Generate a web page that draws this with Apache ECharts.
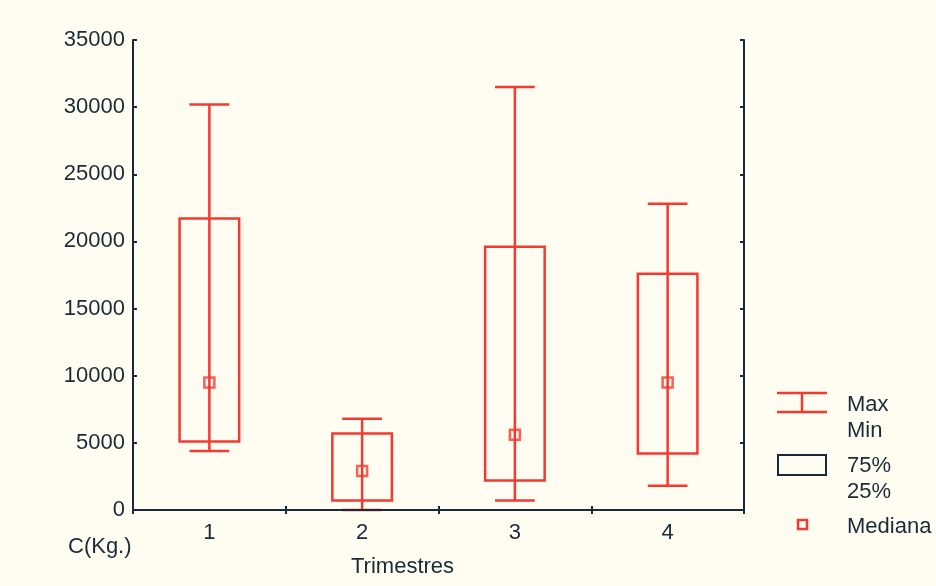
<!DOCTYPE html>
<html>
<head>
<meta charset="utf-8">
<style>
  html, body { margin: 0; padding: 0; background: #fffdf2; }
  #chart { width: 936px; height: 586px; }
</style>
<script src="https://cdn.jsdelivr.net/npm/echarts@6/dist/echarts.min.js"></script>
</head>
<body>
<div id="chart"></div>
<script>
// Quarterly catch statistics (kg)
const quarters = ['1', '2', '3', '4'];
const maxVals = [30200, 6800, 31500, 22800];
const q3Vals = [21700, 5700, 19600, 17600];
const medianVals = [9500, 2900, 5600, 9500];
const q1Vals = [5100, 700, 2200, 4200];
const minVals = [4400, 0, 700, 1800];
const yTicks = [0, 5000, 10000, 15000, 20000, 25000, 30000, 35000];

const RED = '#f23a30';
const INK = '#17293a';
const TEXT = '#1a2a36';
const FONT = 'Liberation Sans, Arial, sans-serif';
const FS = 22;

const boxRows = quarters.map((q, i) => [i, minVals[i], q1Vals[i], medianVals[i], q3Vals[i], maxVals[i]]);
const medianRows = quarters.map((q, i) => [i, medianVals[i]]);

function renderBox(params, api) {
  const idx = api.value(0);
  const pMin = api.coord([idx, api.value(1)]);
  const pQ1 = api.coord([idx, api.value(2)]);
  const pQ3 = api.coord([idx, api.value(4)]);
  const pMax = api.coord([idx, api.value(5)]);
  const band = api.size([1, 0])[0];
  const boxW = band * 0.39;
  const capW = band * 0.26;
  const x = pMin[0];
  const style = { stroke: RED, lineWidth: 2.5, fill: null };
  return {
    type: 'group',
    children: [
      { type: 'line', shape: { x1: x, y1: pMin[1], x2: x, y2: pMax[1] }, style },
      { type: 'line', shape: { x1: x - capW / 2, y1: pMax[1], x2: x + capW / 2, y2: pMax[1] }, style },
      { type: 'line', shape: { x1: x - capW / 2, y1: pMin[1], x2: x + capW / 2, y2: pMin[1] }, style },
      { type: 'rect', shape: { x: x - boxW / 2, y: pQ3[1], width: boxW, height: pQ1[1] - pQ3[1] }, style }
    ]
  };
}

const chart = echarts.init(document.getElementById('chart'));

const axisLineStyle = { color: INK, width: 2 };
const tickStyle = { color: INK, width: 2 };

chart.setOption({
  backgroundColor: '#fffdf2',
  animation: false,
  grid: { left: 133, right: 192, top: 40, bottom: 76 },
  xAxis: [
    {
      type: 'category',
      data: quarters,
      boundaryGap: true,
      z: 5,
      axisLine: { lineStyle: axisLineStyle },
      axisTick: { show: true, inside: true, length: 4, lineStyle: tickStyle },
      axisLabel: { color: TEXT, fontSize: FS, fontFamily: FONT, margin: 12 },
      splitLine: { show: false }
    },
    {
      type: 'category',
      data: quarters,
      position: 'top',
      boundaryGap: true,
      z: 5,
      axisLine: { show: true, lineStyle: axisLineStyle },
      axisTick: { show: true, inside: true, length: 4, lineStyle: tickStyle },
      axisLabel: { show: false },
      splitLine: { show: false }
    }
  ],
  yAxis: [
    {
      type: 'value',
      min: yTicks[0],
      max: yTicks[yTicks.length - 1],
      interval: yTicks[1] - yTicks[0],
      z: 5,
      axisLine: { show: true, lineStyle: axisLineStyle },
      axisTick: { show: true, inside: true, length: 4, lineStyle: tickStyle },
      axisLabel: { color: TEXT, fontSize: FS, fontFamily: FONT, margin: 8, formatter: v => String(v) },
      splitLine: { show: false }
    },
    {
      type: 'value',
      position: 'right',
      min: yTicks[0],
      max: yTicks[yTicks.length - 1],
      interval: yTicks[1] - yTicks[0],
      z: 5,
      axisLine: { show: true, lineStyle: axisLineStyle },
      axisTick: { show: true, inside: true, length: 4, lineStyle: tickStyle },
      axisLabel: { show: false },
      splitLine: { show: false }
    }
  ],
  series: [
    {
      type: 'custom',
      name: 'Max/Min, 75%/25%',
      renderItem: renderBox,
      encode: { x: 0, y: [1, 2, 3, 4, 5] },
      data: boxRows,
      z: 2
    },
    {
      type: 'scatter',
      name: 'Mediana',
      data: medianRows,
      symbol: 'rect',
      symbolSize: 10,
      itemStyle: { color: 'rgba(0,0,0,0)', borderColor: RED, borderWidth: 2.5 },
      z: 3
    }
  ],
  graphic: [
    // axis captions
    { type: 'text', left: 68, top: 536, style: { text: 'C(Kg.)', font: FS + 'px ' + FONT, fill: TEXT } },
    { type: 'text', left: 351, top: 556, style: { text: 'Trimestres', font: FS + 'px ' + FONT, fill: TEXT } },
    // legend: whisker range
    { type: 'line', shape: { x1: 777, y1: 393, x2: 827, y2: 393 }, style: { stroke: RED, lineWidth: 2.5 } },
    { type: 'line', shape: { x1: 777, y1: 412, x2: 827, y2: 412 }, style: { stroke: RED, lineWidth: 2.5 } },
    { type: 'line', shape: { x1: 802, y1: 393, x2: 802, y2: 412 }, style: { stroke: RED, lineWidth: 2.5 } },
    { type: 'text', x: 847, y: 405, style: { text: 'Max', font: FS + 'px ' + FONT, fill: TEXT, verticalAlign: 'middle' } },
    { type: 'text', x: 847, y: 431, style: { text: 'Min', font: FS + 'px ' + FONT, fill: TEXT, verticalAlign: 'middle' } },
    // legend: quartile box
    { type: 'rect', shape: { x: 778, y: 455, width: 48, height: 20 }, style: { stroke: INK, lineWidth: 2, fill: null } },
    { type: 'text', x: 847, y: 466, style: { text: '75%', font: FS + 'px ' + FONT, fill: TEXT, verticalAlign: 'middle' } },
    { type: 'text', x: 847, y: 492, style: { text: '25%', font: FS + 'px ' + FONT, fill: TEXT, verticalAlign: 'middle' } },
    // legend: median marker
    { type: 'rect', shape: { x: 798, y: 520, width: 9, height: 9 }, style: { stroke: RED, lineWidth: 2.5, fill: null } },
    { type: 'text', x: 847, y: 527, style: { text: 'Mediana', font: FS + 'px ' + FONT, fill: TEXT, verticalAlign: 'middle' } }
  ]
});
</script>
</body>
</html>
